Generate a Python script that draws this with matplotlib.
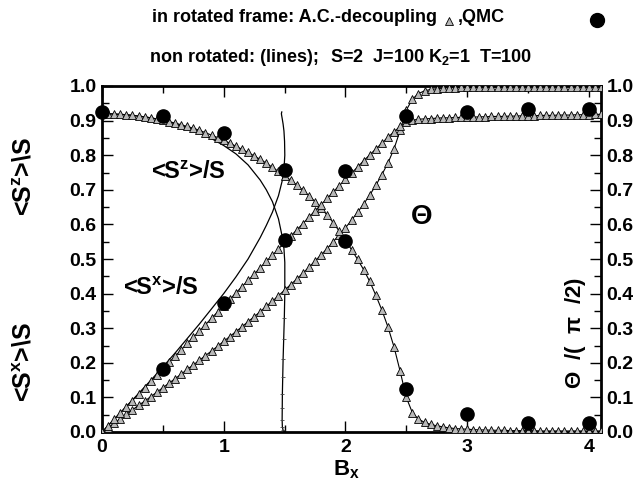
import matplotlib
matplotlib.use("Agg")
import matplotlib.pyplot as plt
from matplotlib.ticker import MultipleLocator, FixedLocator
from matplotlib.lines import Line2D

plt.rcParams['font.family'] = ['Liberation Sans', 'DejaVu Sans']
plt.rcParams['font.weight'] = 'bold'
plt.rcParams['mathtext.fontset'] = 'custom'
plt.rcParams['mathtext.rm'] = 'Liberation Sans:bold'
plt.rcParams['mathtext.it'] = 'Liberation Sans:bold'
plt.rcParams['mathtext.bf'] = 'Liberation Sans:bold'

# ---- A.C.-decoupling (rotated frame), triangles ----
B_ac = [0.00, 0.05, 0.10, 0.15, 0.20, 0.25, 0.30, 0.35, 0.40, 0.45,
        0.50, 0.55, 0.60, 0.65, 0.70, 0.75, 0.80, 0.85, 0.90, 0.95,
        1.00, 1.05, 1.10, 1.15, 1.20, 1.25, 1.30, 1.35, 1.40, 1.45,
        1.50, 1.55, 1.60, 1.65, 1.70, 1.75, 1.80, 1.85, 1.90, 1.95,
        2.00, 2.05, 2.10, 2.15, 2.20, 2.25, 2.30, 2.35, 2.40, 2.45,
        2.50, 2.55, 2.60, 2.65, 2.70, 2.75, 2.80, 2.85, 2.90, 2.95,
        3.00, 3.05, 3.10, 3.15, 3.20, 3.25, 3.30, 3.35, 3.40, 3.45,
        3.50, 3.55, 3.60, 3.65, 3.70, 3.75, 3.80, 3.85, 3.90, 3.95,
        4.00, 4.05, 4.10]

theta_ac = [0.000, 0.013, 0.025, 0.038, 0.051, 0.064, 0.077, 0.089, 0.102, 0.115,
            0.128, 0.141, 0.154, 0.167, 0.181, 0.194, 0.207, 0.221, 0.234, 0.248,
            0.262, 0.276, 0.290, 0.304, 0.319, 0.333, 0.348, 0.363, 0.378, 0.394,
            0.410, 0.426, 0.442, 0.459, 0.476, 0.494, 0.512, 0.530, 0.550, 0.570,
            0.590, 0.612, 0.635, 0.659, 0.685, 0.713, 0.744, 0.778, 0.819, 0.872,
            0.930, 0.962, 0.978, 0.986, 0.990, 0.992, 0.994, 0.995, 0.995, 0.996,
            0.996, 0.996, 0.997, 0.997, 0.997, 0.997, 0.997, 0.997, 0.998, 0.998,
            0.998, 0.998, 0.998, 0.998, 0.998, 0.998, 0.998, 0.998, 0.998, 0.998,
            0.998, 0.998, 0.998]

sz_ac = [0.920, 0.920, 0.919, 0.918, 0.917, 0.915, 0.913, 0.911, 0.908, 0.905,
         0.901, 0.897, 0.893, 0.888, 0.883, 0.878, 0.872, 0.865, 0.858, 0.851,
         0.843, 0.835, 0.826, 0.817, 0.808, 0.798, 0.788, 0.777, 0.765, 0.753,
         0.740, 0.728, 0.714, 0.699, 0.683, 0.666, 0.647, 0.627, 0.605, 0.580,
         0.554, 0.527, 0.499, 0.469, 0.435, 0.395, 0.352, 0.303, 0.245, 0.175,
         0.100, 0.056, 0.037, 0.028, 0.022, 0.018, 0.015, 0.012, 0.010, 0.009,
         0.008, 0.007, 0.006, 0.006, 0.005, 0.005, 0.005, 0.004, 0.004, 0.004,
         0.004, 0.004, 0.003, 0.003, 0.003, 0.003, 0.003, 0.003, 0.003, 0.003,
         0.003, 0.003, 0.003]

sx_ac = [0.000, 0.018, 0.037, 0.055, 0.073, 0.091, 0.110, 0.128, 0.146, 0.164,
         0.183, 0.201, 0.219, 0.237, 0.256, 0.274, 0.292, 0.310, 0.329, 0.347,
         0.365, 0.383, 0.402, 0.420, 0.438, 0.456, 0.475, 0.493, 0.511, 0.529,
         0.548, 0.566, 0.584, 0.602, 0.621, 0.639, 0.657, 0.675, 0.694, 0.712,
         0.730, 0.748, 0.766, 0.784, 0.801, 0.818, 0.835, 0.852, 0.868, 0.883,
         0.895, 0.901, 0.904, 0.905, 0.906, 0.907, 0.908, 0.908, 0.909, 0.909,
         0.910, 0.910, 0.911, 0.911, 0.912, 0.912, 0.912, 0.913, 0.913, 0.914,
         0.914, 0.914, 0.915, 0.915, 0.915, 0.916, 0.916, 0.916, 0.917, 0.917,
         0.917, 0.918, 0.918]

# ---- QMC (rotated frame), filled circles ----
B_qmc_z = [0.0, 0.5, 1.0, 1.5, 2.0, 2.5, 3.0, 3.5, 4.0]
sz_qmc = [0.924, 0.914, 0.865, 0.757, 0.553, 0.123, 0.051, 0.027, 0.027]
B_qmc_x = [0.5, 1.0, 1.5, 2.0, 2.5, 3.0, 3.5, 4.0]
sx_qmc = [0.182, 0.373, 0.555, 0.755, 0.913, 0.924, 0.933, 0.933]

# ---- non rotated (lines) ----
B_nr_x = [0.0, 0.1, 0.2, 0.3, 0.4, 0.5, 0.6, 0.7, 0.8, 0.9, 1.0, 1.1, 1.2, 1.3,
          1.35, 1.40, 1.45, 1.48, 1.495, 1.502, 1.500, 1.495, 1.488, 1.481,
          1.476, 1.474, 1.477]
sx_nr = [0.000, 0.037, 0.074, 0.111, 0.149, 0.188, 0.228, 0.270, 0.312, 0.356,
         0.400, 0.448, 0.500, 0.562, 0.597, 0.635, 0.683, 0.725, 0.757, 0.800,
         0.840, 0.870, 0.890, 0.905, 0.915, 0.920, 0.925]

B_nr_z = [0.0, 0.1, 0.2, 0.3, 0.4, 0.5, 0.6, 0.7, 0.8, 0.9, 1.0, 1.1, 1.2, 1.3,
          1.35, 1.40, 1.45, 1.48, 1.495, 1.502, 1.502, 1.498, 1.493, 1.488,
          1.485, 1.482, 1.481, 1.480, 1.482, 1.488, 1.498]
sz_nr = [0.920, 0.919, 0.917, 0.913, 0.908, 0.901, 0.891, 0.880, 0.865, 0.848,
         0.828, 0.804, 0.772, 0.728, 0.700, 0.666, 0.616, 0.566, 0.530, 0.490,
         0.400, 0.330, 0.270, 0.210, 0.160, 0.110, 0.070, 0.035, 0.015, 0.005,
         0.001]

# ---- figure ----
W, H = 644, 493
fig = plt.figure(figsize=(W / 100, H / 100), dpi=100)
ax = fig.add_axes([102 / W, 1 - 432 / H, (601 - 102) / W, (432 - 86) / H])

tri_kw = dict(marker='^', ms=5.5, mfc='#b8b8b8', mec='black', mew=0.6,
              color='black', lw=0.8, zorder=3)
ax.plot(B_ac, theta_ac, **tri_kw)
ax.plot(B_ac, sz_ac, **tri_kw)
ax.plot(B_ac, sx_ac, **tri_kw)

ax.plot(B_nr_x, sx_nr, color='black', lw=0.9, zorder=2)
ax.plot(B_nr_z, sz_nr, color='black', lw=0.9, zorder=2)
ax.plot(B_nr_z[20:], sz_nr[20:], ls='none', marker='_', ms=3, mew=0.6,
        color='#444444', zorder=2)

ax.plot(B_qmc_z, sz_qmc, 'o', ms=9.5, color='black', zorder=4, clip_on=False)
ax.plot(B_qmc_x, sx_qmc, 'o', ms=9.5, color='black', zorder=4, clip_on=False)

ax.set_xlim(0, 4.1)
ax.set_ylim(0, 1.0)
ax.xaxis.set_major_locator(FixedLocator([0, 1, 2, 3, 4]))
ax.xaxis.set_minor_locator(FixedLocator([0.5, 1.5, 2.5, 3.5]))
ax.yaxis.set_major_locator(MultipleLocator(0.1))
ax.yaxis.set_minor_locator(MultipleLocator(0.05))
ax.set_xticklabels(['0', '1', '2', '3', '4'])
ax.tick_params(axis='both', which='both', direction='in', top=True, right=True,
               labelright=True, width=1.0, labelsize=14)
ax.tick_params(which='major', length=8)
ax.tick_params(which='minor', length=5)
ax.tick_params(axis='x', pad=5)
ax.tick_params(axis='y', pad=4)
ax.yaxis.set_major_formatter(plt.FuncFormatter(lambda v, p: f'{v:.1f}'))
for lab in ax.get_xticklabels() + ax.get_yticklabels():
    lab.set_fontweight('bold')
for s in ax.spines.values():
    s.set_linewidth(2.0)

# annotations inside axes
ax.text(0.71, 0.75, r'<S$^{z}$>/S', fontsize=17, fontweight='bold',
        ha='center', va='center')
ax.text(0.48, 0.415, r'<S$^{x}$>/S', fontsize=17, fontweight='bold',
        ha='center', va='center')
ax.text(2.62, 0.62, r'$\Theta$', fontsize=20, ha='center', va='center')
fig.text(576 / W, 1 - 333 / H, r'$\Theta$  /(  $\pi$  /2)', rotation=90,
         fontsize=16, fontweight='bold', ha='center', va='center')

# y labels on the left
fig.text(25 / W, 1 - 177 / H, r'<S$^{z}$>\S', rotation=90, fontsize=18,
         fontweight='bold', ha='center', va='center')
fig.text(25 / W, 1 - 362 / H, r'<S$^{x}$>\S', rotation=90, fontsize=18,
         fontweight='bold', ha='center', va='center')

# x label
fig.text(346 / W, 1 - 470 / H, r'B$_{x}$', fontsize=16, fontweight='bold',
         ha='center', va='center')

# header legend
fig.text(152 / W, 1 - 17 / H, 'in rotated frame: A.C.-decoupling',
         fontsize=13, fontweight='bold', ha='left', va='center')
fig.add_artist(Line2D([449 / W], [1 - 21 / H], marker='^', ms=6, mfc='#b8b8b8',
                      mec='black', mew=0.6, ls='none', transform=fig.transFigure))
fig.text(458 / W, 1 - 17 / H, ',QMC', fontsize=13, fontweight='bold',
         ha='left', va='center')
fig.add_artist(Line2D([597 / W], [1 - 20 / H], marker='o', ms=10, color='black',
                      ls='none', transform=fig.transFigure))
fig.text(150 / W, 1 - 57 / H, 'non rotated: (lines);', fontsize=13,
         fontweight='bold', ha='left', va='center')
fig.text(330 / W, 1 - 57 / H, r'S=2  J=100 K$_{2}$=1  T=100', fontsize=13,
         fontweight='bold', ha='left', va='center')

fig.savefig('out.png', dpi=100)
